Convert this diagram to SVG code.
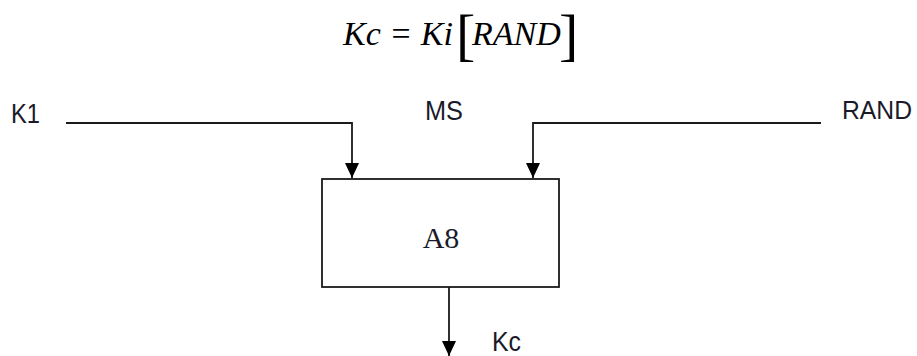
<svg xmlns="http://www.w3.org/2000/svg" width="917" height="356" viewBox="0 0 917 356">
<defs>
<style>
.ln{fill:none;stroke:#1a1a1a;stroke-width:1.8}
.lbl{font-family:"Liberation Sans","Open Sans",sans-serif;font-size:28px;fill:#1a1a2a}
.sm{font-size:26px}
.f{font-family:"Liberation Serif","Times New Roman",serif;font-style:italic;font-size:34px;fill:#000}
.br{font-family:"Liberation Serif","Times New Roman",serif;font-size:58px;fill:#000}
.box{fill:#fff;stroke:#1a1a1a;stroke-width:1.8}
.a8{font-family:"Liberation Serif","Times New Roman",serif;font-size:30px;fill:#1a1a2a}
</style>
<marker id="arr" markerWidth="15" markerHeight="14" refX="15" refY="7" orient="auto" markerUnits="userSpaceOnUse" viewBox="0 0 15 14">
<path d="M0,0 L15,7 L0,14 Z" fill="#000"/>
</marker>
</defs>
<g id="formula">
<text class="f" x="343" y="45">Kc = Ki</text>
<text class="br" x="456" y="54">[</text>
<text class="f" x="472" y="45">RAND</text>
<text class="br" x="559" y="54">]</text>
</g>
<g id="k1"><text class="lbl" x="11" y="123" textLength="29" lengthAdjust="spacingAndGlyphs">K1</text></g>
<g id="ms"><text class="lbl" x="425" y="120" textLength="38" lengthAdjust="spacingAndGlyphs">MS</text></g>
<g id="rand"><text class="lbl sm" x="842" y="119" textLength="70" lengthAdjust="spacingAndGlyphs">RAND</text></g>
<g id="a8">
<rect class="box" x="322" y="179" width="237" height="108"/>
<text class="a8" x="441" y="248" text-anchor="middle">A8</text>
</g>
<g id="kc"><text class="lbl" x="492" y="351" textLength="29" lengthAdjust="spacingAndGlyphs">Kc</text></g>
<g id="connectors">
<path class="ln" d="M66,123 H352 V178" marker-end="url(#arr)"/>
<path class="ln" d="M821,123 H533 V178" marker-end="url(#arr)"/>
<path class="ln" d="M449,287 V356" marker-end="url(#arr)"/>
</g>
</svg>
